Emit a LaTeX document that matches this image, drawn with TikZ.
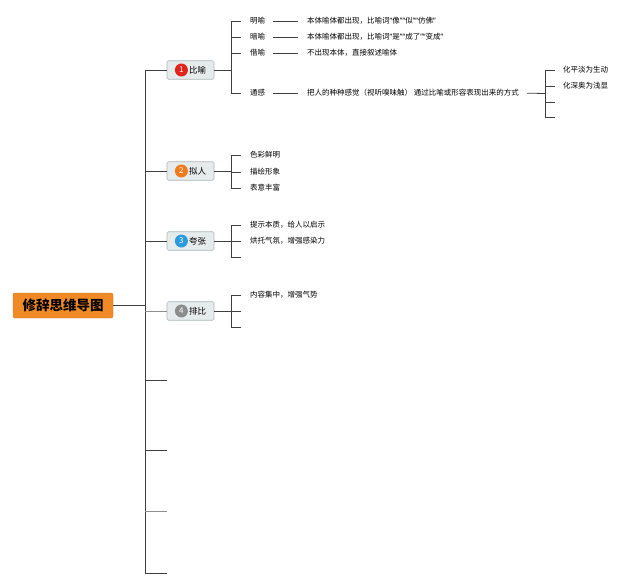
\documentclass[tikz,border=0pt]{standalone}
\usepackage{fontspec}
\setmainfont{Noto Sans CJK SC}
\newfontfamily\quotefont{Noto Sans}
\newcommand\qopen{{\quotefont “}}
\newcommand\qclose{{\quotefont ”}}
\usepackage{xcolor}
\definecolor{mapline}{HTML}{3F3F3F}
\definecolor{mapfaint}{HTML}{8E8E8E}
\definecolor{rootfill}{HTML}{F08A26}
\definecolor{topicfill}{HTML}{E6EBEB}
\definecolor{topicdraw}{HTML}{AEB7B7}
\definecolor{dotred}{HTML}{E2251B}
\definecolor{dotorange}{HTML}{F07A1E}
\definecolor{dotblue}{HTML}{2C9ADB}
\definecolor{dotgray}{HTML}{8C8C8C}
\usetikzlibrary{positioning}

\begin{document}
\begin{tikzpicture}[
  x=1pt, y=-1pt,
  font=\fontsize{7.5}{9}\selectfont,
  root/.style={rectangle, rounded corners=2pt, fill=rootfill, draw=rootfill!85!black,
               minimum width=100pt, minimum height=25pt, inner sep=0pt,
               font=\fontsize{13.5}{15}\selectfont\bfseries},
  topic/.style={rectangle, rounded corners=1.5pt, fill=topicfill, draw=topicdraw,
                minimum width=47pt, minimum height=18.5pt, inner sep=0pt, line width=0.6pt,
                font=\fontsize{8.5}{10}\selectfont},
  numdot/.style={circle, inner sep=0pt, minimum size=13pt, text=white,
                 font=\fontsize{8}{8}\selectfont},
  item/.style={anchor=west, inner sep=0pt},
  ln/.style={draw=mapline, line width=0.8pt},
]
\useasboundingbox (0,0) rectangle (640,587);

% ---- root and trunk
\node[root] (root) at (63,305.5) {修辞思维导图};
\coordinate (trunktop) at (145,70);
\coordinate (trunkbot) at (145,573);
\coordinate (rootjoin) at (145,305.5);
\draw[ln] (trunktop) -- (trunkbot);
\draw[ln] (root.east) -- (rootjoin);

% ---- the four topics
\foreach \k/\y/\c/\t/\lc in {1/70/dotred/比喻/mapline, 2/171/dotorange/拟人/mapline,
                             3/241/dotblue/夸张/mapline, 4/311/dotgray/排比/mapfaint} {
  \node[topic] (t\k) at (190.5,\y) {\hspace{14pt}\t};
  \node[numdot, fill=\c, right=8pt of t\k.west] (n\k) {\k};
  \coordinate (j\k) at (145,\y);
  \coordinate (b\k) at (231,\y);
  \draw[ln, draw=\lc] (j\k) -- (t\k.west);
  \draw[ln] (t\k.east) -- (b\k);
}

% ---- empty branches below
\foreach \k/\y/\lc in {1/380/mapline, 2/450/mapline, 3/511/mapfaint, 4/573/mapline} {
  \coordinate (ea\k) at (145,\y);
  \coordinate (eb\k) at (167,\y);
  \draw[ln, draw=\lc] (ea\k) -- (eb\k);
}

% ---- 比喻
\foreach \k/\y/\t in {1/21/明喻, 2/37/暗喻, 3/53/借喻, 4/93/通感} {
  \coordinate (ba\k) at (231,\y);
  \node[item] (ai\k) at (250,\y) {\t};
  \draw[ln] (ba\k) -- (ai\k.west) [shorten >=9pt];
}
\draw[ln] (ba1) -- (ba4);

\foreach \k/\t in {1/{本体喻体都出现，比喻词\qopen 像\qclose\qopen 似\qclose\qopen 仿佛\qclose},
                   2/{本体喻体都出现，比喻词\qopen 是\qclose\qopen 成了\qclose\qopen 变成\qclose},
                   3/{不出现本体，直接叙述喻体},
                   4/{把人的种种感觉（视听嗅味触） 通过比喻或形容表现出来的方式}} {
  \node[item, right=57pt of ai\k.west] (ad\k) {\t};
  \draw[ln, shorten <=8pt, shorten >=9pt] (ai\k.east) -- (ad\k.west);
}

% ---- 通感 goes one level further
\coordinate (ca) at (545,93.5);
\draw[ln, shorten <=8pt] (ad4.east) -- (ca);
\foreach \k/\y/\t in {1/70/化平淡为生动, 2/86/化深奥为浅显, 3/102/{}, 4/117/{}} {
  \coordinate (cb\k) at (545,\y);
  \coordinate (cc\k) at (555,\y);
  \node[item] (ci\k) at (563,\y) {\t};
  \draw[ln] (cb\k) -- (cc\k);
}
\draw[ln] (cb1) -- (cb4);

% ---- 拟人
\foreach \k/\y/\t in {1/155/色彩鲜明, 2/172/描绘形象, 3/188/表意丰富} {
  \coordinate (bb\k) at (231,\y);
  \node[item] (bi\k) at (250,\y) {\t};
  \draw[ln] (bb\k) -- (bi\k.west) [shorten >=9pt];
}
\draw[ln] (bb1) -- (bb3);

% ---- 夸张
\foreach \k/\y/\t in {1/225/{提示本质，给人以启示}, 2/241/{烘托气氛，增强感染力}, 3/257/{}} {
  \coordinate (bc\k) at (231,\y);
  \node[item] (ki\k) at (250,\y) {\t};
  \draw[ln] (bc\k) -- (ki\k.west) [shorten >=9pt];
}
\draw[ln] (bc1) -- (bc3);

% ---- 排比
\foreach \k/\y/\t in {1/295/{内容集中，增强气势}, 2/311/{}, 3/327/{}} {
  \coordinate (bd\k) at (231,\y);
  \node[item] (pi\k) at (250,\y) {\t};
  \draw[ln] (bd\k) -- (pi\k.west) [shorten >=9pt];
}
\draw[ln] (bd1) -- (bd3);
\end{tikzpicture}
\end{document}
